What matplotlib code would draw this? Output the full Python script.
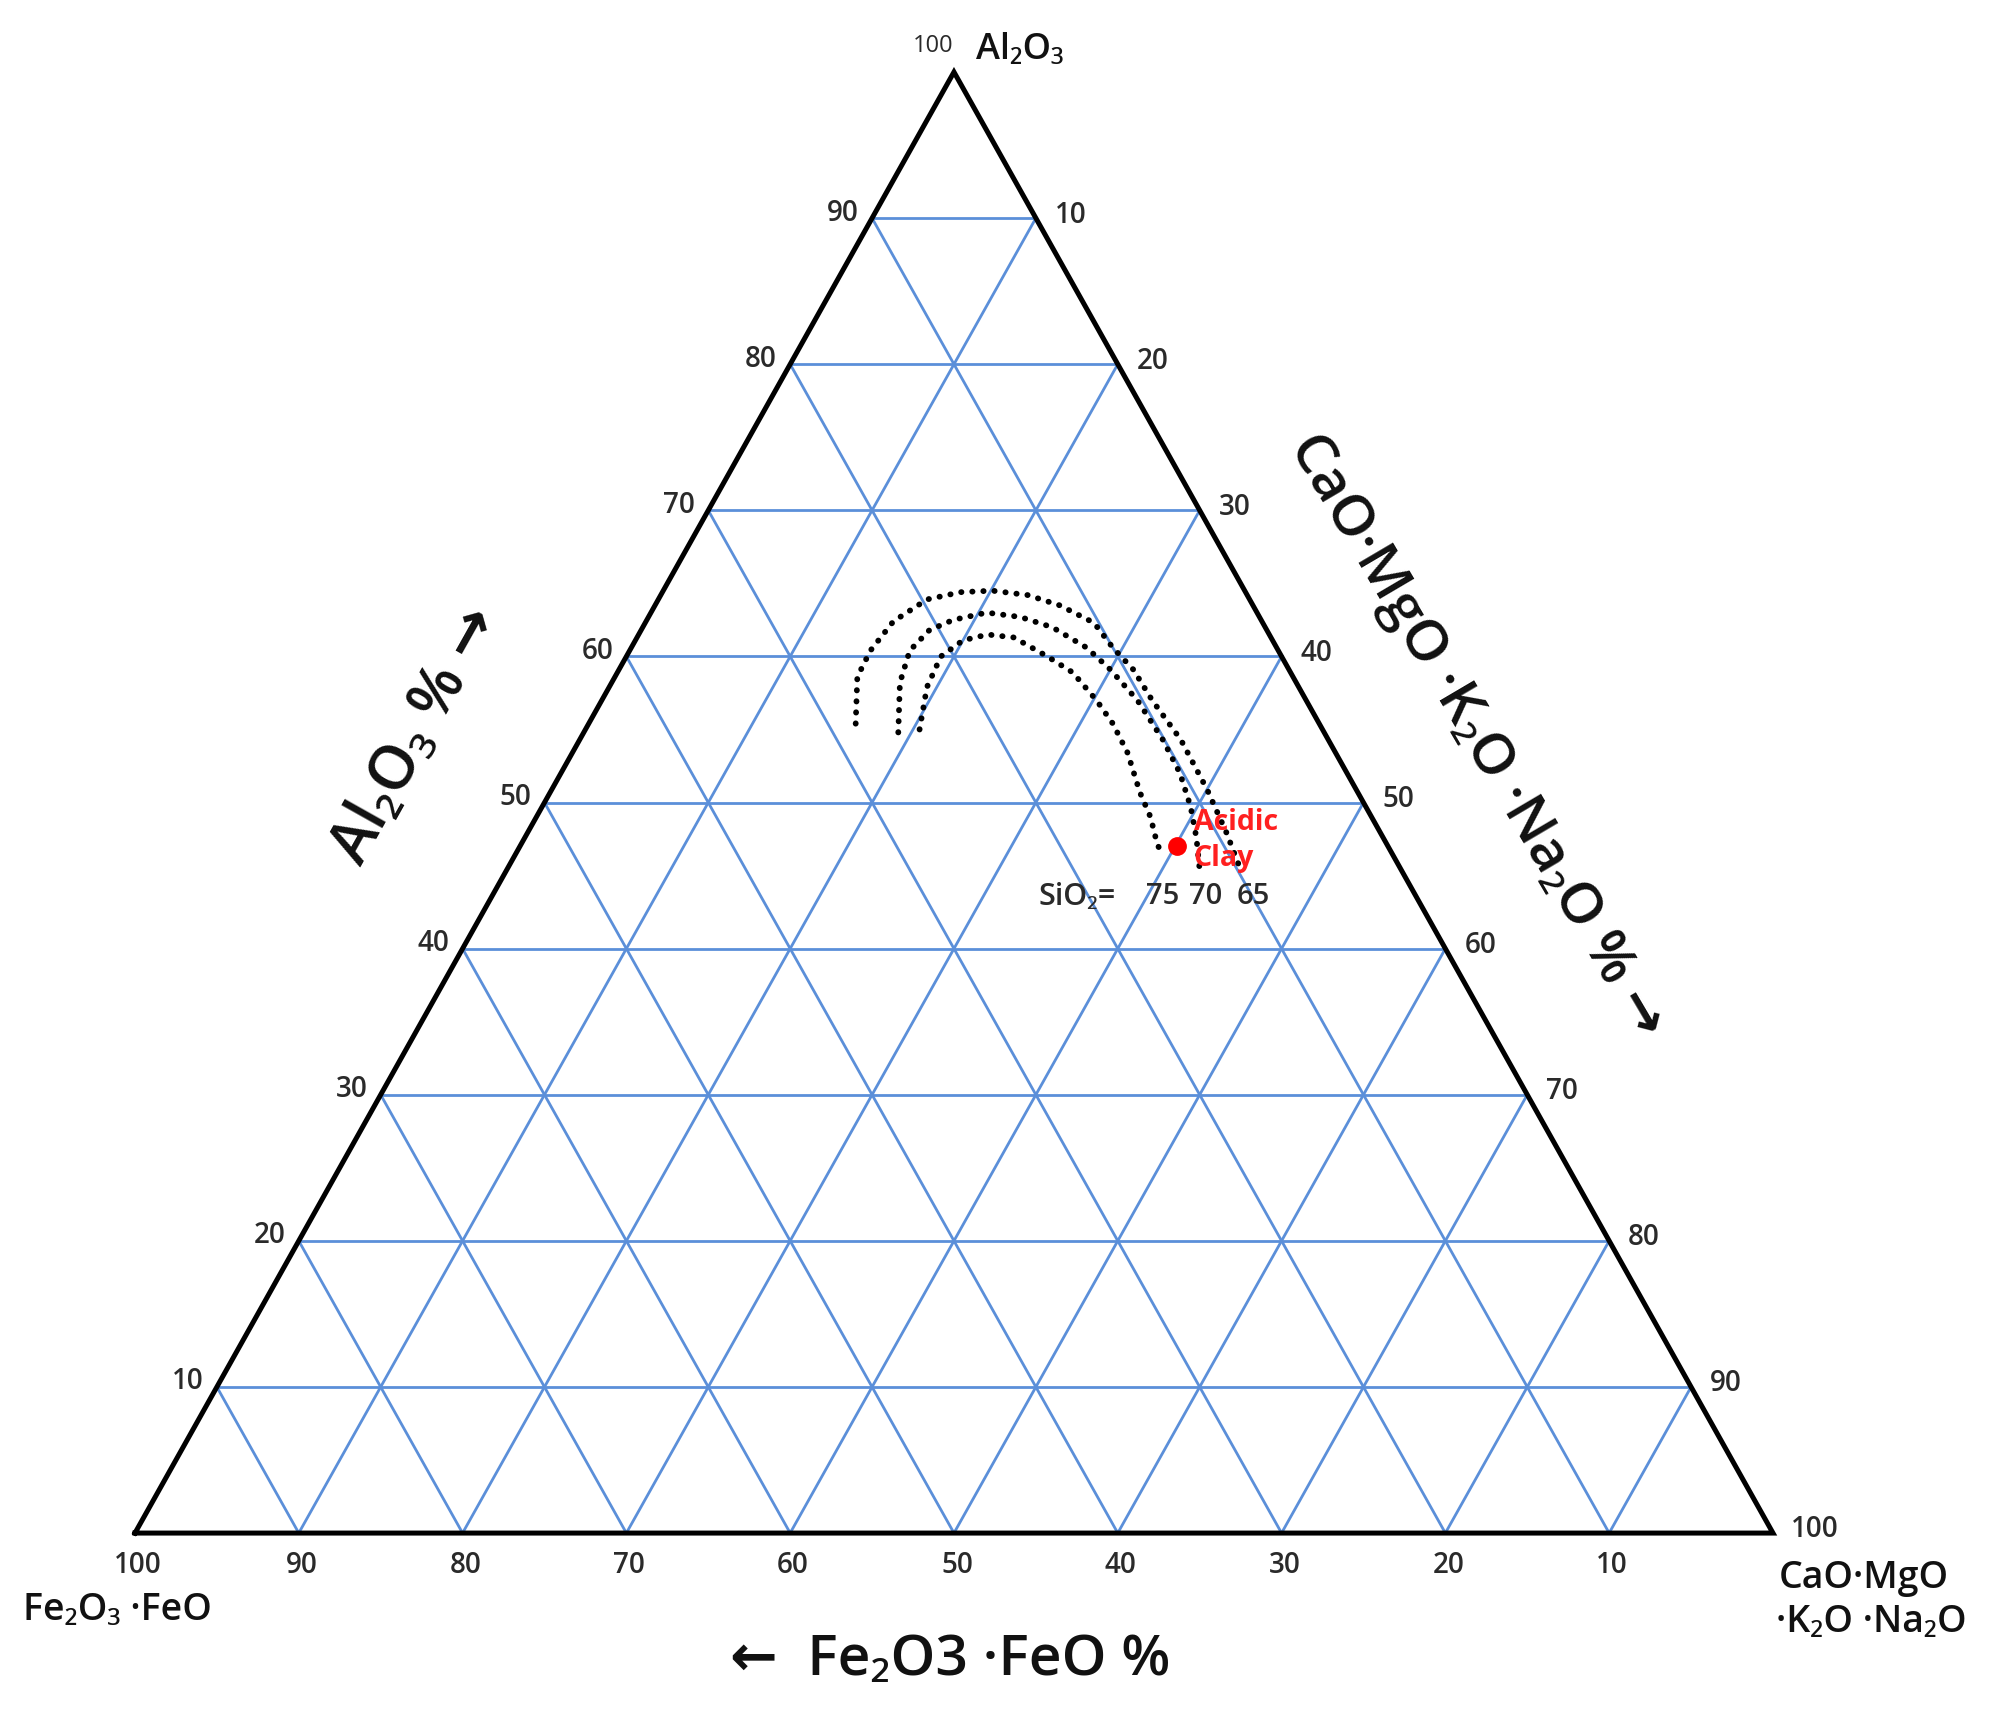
import numpy as np
import matplotlib
matplotlib.use("Agg")
import matplotlib.pyplot as plt

plt.rcParams['font.family'] = ['Open Sans', 'Noto Sans', 'DejaVu Sans']

# ---------------- data ----------------
grid_levels = [10, 20, 30, 40, 50, 60, 70, 80, 90]
left_tick_labels = ['10', '20', '30', '40', '50', '60', '70', '80', '90']        # Al2O3 %
right_tick_labels = ['90', '80', '70', '60', '50', '40', '30', '20', '10']       # CaO... % at Al2O3 = 10..90
bottom_tick_labels = ['100', '90', '80', '70', '60', '50', '40', '30', '20', '10']  # Fe2O3 % at CaO = 0..90

# SiO2 iso-lines (Al2O3 %, CaO·MgO·K2O·Na2O %)
sio2_levels = ['75', '70', '65']
curve75_al = [55.0, 57.9, 60.0, 61.1, 61.5, 61.3, 60.0, 58.9, 57.0, 55.4, 53.4, 50.7, 49.0, 47.2, 46.3]
curve75_ca = [20.4, 19.4, 19.2, 20.0, 21.3, 23.0, 25.7, 27.8, 30.2, 32.0, 33.9, 36.0, 37.5, 38.8, 39.6]
curve70_al = [54.8, 58.2, 60.4, 61.8, 62.5, 63.0, 62.7, 62.0, 60.6, 59.1, 57.0, 54.3, 52.0, 49.7, 47.6, 45.4]
curve70_ca = [19.2, 17.6, 17.1, 17.6, 18.7, 20.5, 22.7, 25.0, 27.8, 30.0, 32.7, 35.6, 37.8, 39.6, 41.0, 42.3]
curve65_al = [55.4, 58.6, 60.4, 62.4, 63.9, 64.4, 64.5, 64.2, 63.5, 62.3, 60.6, 59.1, 57.0, 54.3, 50.9, 47.9, 45.4]
curve65_ca = [16.3, 14.8, 14.7, 15.1, 16.4, 18.2, 20.1, 22.4, 24.7, 27.4, 29.4, 31.4, 33.6, 36.7, 40.0, 42.7, 44.8]

clay_al = [47.0]
clay_ca = [40.1]


def tern(al, ca):
    al = np.asarray(al, dtype=float)
    ca = np.asarray(ca, dtype=float)
    return ca + al / 2.0, al


H = 1723.0

# ---------------- figure ----------------
fig = plt.figure(figsize=(20, 17.23), dpi=100)
ax = fig.add_axes([0, 0, 1, 1])
ax.set_xlim(-8.24, 113.86)
ax.set_ylim(-13.0, 104.93)
ax.axis('off')

grid_c = '#5b8fd9'
grid_lw = 2.0
for v in grid_levels:
    x, y = tern([v, v], [0, 100 - v])          # constant Al2O3
    ax.plot(x, y, color=grid_c, lw=grid_lw, zorder=1)
    x, y = tern([0, 100 - v], [v, v])          # constant CaO
    ax.plot(x, y, color=grid_c, lw=grid_lw, zorder=1)
    x, y = tern([0, 100 - v], [100 - v, 0])    # constant Fe2O3
    ax.plot(x, y, color=grid_c, lw=grid_lw, zorder=1)

# triangle
x, y = tern([0, 100, 0, 0], [0, 0, 100, 0])
ax.plot(x, y, color='black', lw=3.6, solid_joinstyle='miter', zorder=3)

# SiO2 curves
for al, ca in [(curve75_al, curve75_ca), (curve70_al, curve70_ca), (curve65_al, curve65_ca)]:
    x, y = tern(al, ca)
    ax.plot(x, y, color='black', lw=4.2, linestyle=(0, (0.05, 1.85)),
            dash_capstyle='round', zorder=4)

# acidic clay
x, y = tern(clay_al, clay_ca)
ax.plot(x, y, 'o', color='#ff0000', ms=12.5, zorder=5)
ax.annotate('Acidic\nClay', xy=(x[0], y[0]), xytext=(17, 6), textcoords='offset pixels',
            ha='left', va='center', color='#ff2020', fontsize=20.5, fontweight='bold',
            linespacing=1.3, zorder=6)

# SiO2 labels under curve ends, on one common row
ends = [(curve75_al[-1], curve75_ca[-1]), (curve70_al[-1], curve70_ca[-1]), (curve65_al[-1], curve65_ca[-1])]
dxs = [0, 6, 13]
for lab, (al, ca), dx in zip(sio2_levels, ends, dxs):
    ex, ey = tern(al, ca)
    ax.annotate(lab, xy=(ex, H - 897), xycoords=('data', 'figure pixels'),
                xytext=(dx, 0), textcoords='offset pixels',
                ha='center', va='center', fontsize=21, color='#2a2a2a', fontweight='semibold')
ex, ey = tern(curve75_al[-1], curve75_ca[-1])
ax.annotate('SiO\u2082=', xy=(ex, H - 897), xycoords=('data', 'figure pixels'),
            xytext=(-86, 0), textcoords='offset pixels',
            ha='center', va='center', fontsize=22, color='#2a2a2a', fontweight='semibold')

tick_kw = dict(fontsize=20, color='#2a2a2a', fontweight='semibold', textcoords='offset pixels',
               ha='center', va='center')
for v, lab in zip(grid_levels, left_tick_labels):
    x, y = tern(v, 0)
    ax.annotate(lab, xy=(x, y), xytext=(-29, 5), **tick_kw)
for v, lab in zip(grid_levels, right_tick_labels):
    x, y = tern(v, 100 - v)
    ax.annotate(lab, xy=(x, y), xytext=(35, 3), **tick_kw)
x, y = tern(0, 100)
ax.annotate('100', xy=(x, y), xytext=(42, 4), **tick_kw)
for i, lab in enumerate(bottom_tick_labels):
    x, y = tern(0, 10 * i)
    ax.annotate(lab, xy=(x, y), xytext=(3, -32), **tick_kw)

# apex
x, y = tern(100, 0)
ax.annotate('100', xy=(x, y), xytext=(-21, 26), textcoords='offset pixels', ha='center', va='center',
            fontsize=17, color='#2a2a2a')
ax.annotate('Al\u2082O\u2083', xy=(x, y), xytext=(22, 22), textcoords='offset pixels', ha='left', va='center',
            fontsize=26, color='#111111', fontweight='semibold')

# corner labels
fig.text(117 / 2000, 1 - 1610 / H, 'Fe\u2082O\u2083 \u00b7FeO', ha='center', va='center', fontsize=27,
         color='#111111', fontweight='semibold')
fig.text(1779 / 2000, 1 - 1578 / H, 'CaO\u00b7MgO', ha='left', va='center', fontsize=27, color='#111111',
         fontweight='semibold')
fig.text(1776 / 2000, 1 - 1622 / H, '\u00b7K\u2082O \u00b7Na\u2082O', ha='left', va='center', fontsize=27,
         color='#111111', fontweight='semibold')

# axis titles
fig.text(417 / 2000, 1 - 736 / H, 'Al\u2082O\u2083 % \u2192', ha='center', va='center', fontsize=44,
         fontweight='semibold', rotation=60.7, rotation_mode='anchor', color='#111111')
fig.text(1476 / 2000, 1 - 736 / H, 'CaO\u00b7MgO \u00b7K\u2082O \u00b7Na\u2082O % \u2192', ha='center',
         va='center', fontsize=41, fontweight='semibold', rotation=-59.5, rotation_mode='anchor', color='#111111')
fig.text(950 / 2000, 1 - 1661 / H, '\u2190  Fe\u2082O3 \u00b7FeO %', ha='center', va='center', fontsize=41,
         fontweight='semibold', color='#111111')

fig.savefig('out.png', dpi=100, facecolor='white')
